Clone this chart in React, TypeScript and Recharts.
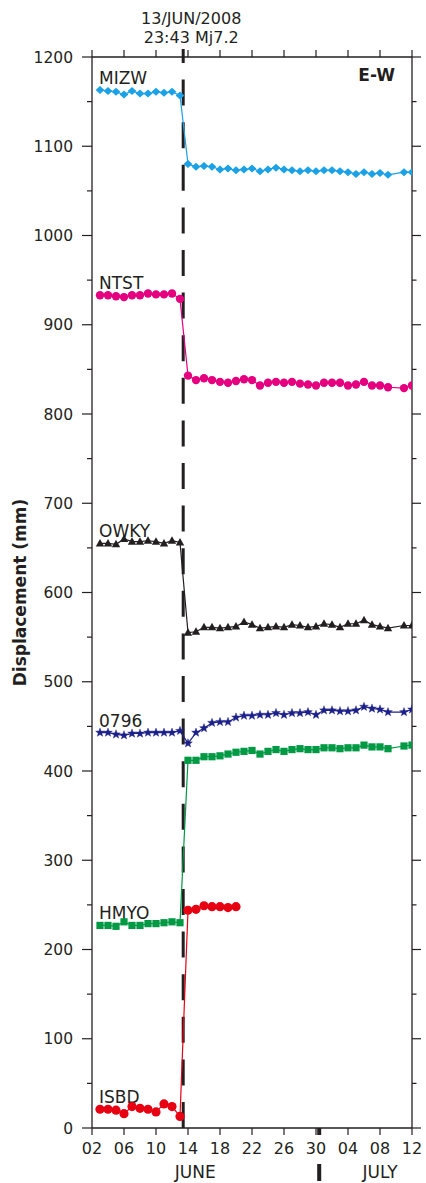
import React from 'react';
import { LineChart, Line, XAxis, YAxis, ReferenceLine } from 'recharts';

const INK = '#231f20';
const FONT = '"DejaVu Sans", sans-serif';

// x axis: day counted from 1 June 2008 (31 = 1 July)
const X_TICKS = [2, 6, 10, 14, 18, 22, 26, 30, 34, 38, 42];
const X_TICK_LABELS = ['02', '06', '10', '14', '18', '22', '26', '30', '04', '08', '12'];
const Y_TICKS = [0, 50, 100, 150, 200, 250, 300, 350, 400, 450, 500, 550, 600, 650, 700, 750, 800, 850, 900, 950, 1000, 1050, 1100, 1150, 1200];
const Y_LABELED = [0, 100, 200, 300, 400, 500, 600, 700, 800, 900, 1000, 1100, 1200];
const QUAKE_DAY = 13.4;
const QUAKE_TEXT = ['13/JUN/2008', '23:43 Mj7.2'];
const MONTH_BOUNDARY = 30.4;
const MONTH_TICKS = [14.9, 38];
const MONTH_LABELS = ['JUNE', 'JULY'];
const COMPONENT_LABEL = 'E-W';

const PRE_DAYS = [3, 4, 5, 6, 7, 8, 9, 10, 11, 12, 13];
const POST_DAYS = [14, 15, 16, 17, 18, 19, 20, 21, 22, 23, 24, 25, 26, 27, 28, 29, 30, 31, 32, 33, 34, 35, 36, 37, 38, 39, 41, 42];
const ISBD_POST_DAYS = [14, 15, 16, 17, 18, 19, 20];

const MIZW_PRE = [1163, 1162, 1161, 1158, 1162, 1159, 1159, 1161, 1160, 1161, 1157];
const MIZW_POST = [1080, 1077, 1078, 1077, 1074, 1075, 1073, 1074, 1075, 1072, 1074, 1076, 1074, 1073, 1072, 1073, 1072, 1073, 1073, 1072, 1071, 1069, 1071, 1069, 1070, 1068, 1071, 1071];
const NTST_PRE = [933, 933, 932, 931, 933, 933, 935, 934, 934, 935, 929];
const NTST_POST = [843, 838, 840, 838, 836, 835, 837, 839, 838, 832, 835, 836, 835, 836, 834, 833, 832, 835, 835, 835, 832, 833, 836, 832, 832, 830, 829, 832];
const OWKY_PRE = [655, 655, 654, 660, 657, 657, 658, 657, 655, 658, 656];
const OWKY_POST = [555, 556, 561, 561, 560, 561, 562, 567, 564, 560, 561, 562, 561, 564, 563, 561, 562, 565, 564, 561, 565, 565, 569, 564, 562, 560, 563, 563];
const S0796_PRE = [443, 443, 441, 440, 442, 442, 443, 443, 443, 443, 445];
const S0796_POST = [431, 443, 448, 454, 455, 455, 460, 462, 462, 463, 463, 465, 463, 465, 465, 466, 463, 468, 468, 467, 467, 468, 472, 470, 469, 466, 466, 469];
const HMYO_PRE = [227, 227, 226, 231, 227, 227, 229, 229, 230, 231, 230];
const HMYO_POST = [412, 412, 416, 416, 417, 419, 421, 422, 423, 419, 422, 424, 422, 424, 425, 424, 424, 426, 426, 425, 426, 426, 429, 427, 427, 425, 428, 429];
const ISBD_PRE = [21, 21, 20, 16, 24, 22, 21, 18, 27, 24, 13];
const ISBD_POST = [244, 245, 249, 248, 248, 247, 248];

type Marker = 'diamond' | 'circle' | 'bigcircle' | 'triangle' | 'star' | 'square';

const build = (preDays: number[], pre: number[], postDays: number[], post: number[]) => [
  ...preDays.map((d, i) => ({ day: d, v: pre[i] })),
  ...postDays.map((d, i) => ({ day: d, v: post[i] })),
];

const STATIONS: { name: string; color: string; marker: Marker; data: { day: number; v: number }[] }[] = [
  { name: 'MIZW', color: '#1ba1e6', marker: 'diamond', data: build(PRE_DAYS, MIZW_PRE, POST_DAYS, MIZW_POST) },
  { name: 'NTST', color: '#e4007f', marker: 'circle', data: build(PRE_DAYS, NTST_PRE, POST_DAYS, NTST_POST) },
  { name: 'OWKY', color: INK, marker: 'triangle', data: build(PRE_DAYS, OWKY_PRE, POST_DAYS, OWKY_POST) },
  { name: '0796', color: '#1d2088', marker: 'star', data: build(PRE_DAYS, S0796_PRE, POST_DAYS, S0796_POST) },
  { name: 'HMYO', color: '#009944', marker: 'square', data: build(PRE_DAYS, HMYO_PRE, POST_DAYS, HMYO_POST) },
  { name: 'ISBD', color: '#e60012', marker: 'bigcircle', data: build(PRE_DAYS, ISBD_PRE, ISBD_POST_DAYS, ISBD_POST) },
];

function starPath(cx: number, cy: number, ro: number, ri: number) {
  let d = '';
  for (let k = 0; k < 10; k++) {
    const r = k % 2 === 0 ? ro : ri;
    const a = -Math.PI / 2 + (k * Math.PI) / 5;
    d += (k === 0 ? 'M' : 'L') + (cx + r * Math.cos(a)).toFixed(2) + ',' + (cy + r * Math.sin(a)).toFixed(2);
  }
  return d + 'Z';
}

function renderMarker(m: Marker, cx: number, cy: number, c: string) {
  switch (m) {
    case 'diamond':
      return <path d={`M${cx},${cy - 4}L${cx + 4.4},${cy}L${cx},${cy + 4}L${cx - 4.4},${cy}Z`} fill={c} />;
    case 'circle':
      return <circle cx={cx} cy={cy} r={4.2} fill={c} />;
    case 'bigcircle':
      return <circle cx={cx} cy={cy} r={4.6} fill={c} />;
    case 'triangle':
      return <path d={`M${cx},${cy - 4.5}L${cx + 4.2},${cy + 3}L${cx - 4.2},${cy + 3}Z`} fill={c} />;
    case 'star':
      return <path d={starPath(cx, cy, 4.6, 1.9)} fill={c} stroke={c} strokeWidth={0.4} />;
    case 'square':
      return <rect x={cx - 3.6} y={cy - 3.6} width={7.2} height={7.2} fill={c} />;
  }
  return null;
}

const makeDot = (name: string, marker: Marker, color: string) => (p: any) => {
  const { cx, cy, index } = p;
  if (cx == null || cy == null) return <g key={`${name}-${index}`} />;
  return (
    <g key={`${name}-${index}`}>
      {renderMarker(marker, cx, cy, color)}
      {index === 0 && (
        <text x={cx - 1} y={cy - 6} fontFamily={FONT} fontSize={17} fill={INK}>
          {name}
        </text>
      )}
    </g>
  );
};

const BottomTick = (p: any) => {
  const { x, y, payload } = p;
  const v = payload.value;
  if (v === MONTH_BOUNDARY) {
    return <rect x={x - 2} y={y} width={4} height={7} fill={INK} />;
  }
  const i = X_TICKS.indexOf(v);
  return (
    <g>
      <line x1={x} x2={x} y1={y} y2={y + 7} stroke={INK} strokeWidth={1.2} />
      <text x={x} y={y + 26} textAnchor="middle" fontFamily={FONT} fontSize={16} fill={INK}>
        {X_TICK_LABELS[i]}
      </text>
    </g>
  );
};

const MonthTick = (p: any) => {
  const { x, y, payload } = p;
  const v = payload.value;
  if (v === MONTH_BOUNDARY) {
    return <rect x={x - 2} y={y + 6} width={4} height={17} fill={INK} />;
  }
  const i = MONTH_TICKS.indexOf(v);
  return (
    <text x={x} y={y + 20} textAnchor="middle" fontFamily={FONT} fontSize={17} fill={INK}>
      {MONTH_LABELS[i]}
    </text>
  );
};

const TopTick = (p: any) => {
  const { x, y, payload } = p;
  const v = payload.value;
  if (v === QUAKE_DAY) {
    return (
      <g>
        <line x1={x} x2={x} y1={y - 8} y2={y} stroke={INK} strokeWidth={3} />
        <text x={x + 8} y={y - 33} textAnchor="middle" fontFamily={FONT} fontSize={16} fill={INK}>
          {QUAKE_TEXT[0]}
        </text>
        <text x={x + 8} y={y - 14} textAnchor="middle" fontFamily={FONT} fontSize={16} fill={INK}>
          {QUAKE_TEXT[1]}
        </text>
      </g>
    );
  }
  return <line x1={x} x2={x} y1={y - 7} y2={y} stroke={INK} strokeWidth={1.2} />;
};

const LeftTick = (p: any) => {
  const { x, y, payload } = p;
  const v = payload.value;
  const major = Y_LABELED.indexOf(v) >= 0;
  return (
    <g>
      <line x1={x - (major ? 10 : 5)} x2={x} y1={y} y2={y} stroke={INK} strokeWidth={1.2} />
      {major && (
        <text x={x - 19} y={y + 5.5} textAnchor="end" fontFamily={FONT} fontSize={15.5} fill={INK}>
          {String(v)}
        </text>
      )}
    </g>
  );
};

const RightTick = (p: any) => {
  const { x, y, payload } = p;
  const major = Y_LABELED.indexOf(payload.value) >= 0;
  return <line x1={x} x2={x + (major ? 9 : 4.5)} y1={y} y2={y} stroke={INK} strokeWidth={1.2} />;
};

const YLabel = (p: any) => {
  const vb = p.viewBox || {};
  const cy = (vb.y ?? 57) + (vb.height ?? 1071) / 2;
  return (
    <text
      x={20}
      y={cy}
      transform={`rotate(-90, 20, ${cy})`}
      textAnchor="middle"
      dominantBaseline="central"
      fontFamily={FONT}
      fontSize={17}
      fontWeight="bold"
      fill={INK}
    >
      Displacement (mm)
    </text>
  );
};

const ComponentLabel = (p: any) => {
  const vb = p.viewBox || {};
  const x = (vb.x ?? 92) + (vb.width ?? 320) - 17;
  const y = (vb.y ?? 57) + 24;
  return (
    <text x={x} y={y} textAnchor="end" fontFamily={FONT} fontSize={17} fontWeight="bold" fill={INK}>
      {COMPONENT_LABEL}
    </text>
  );
};

const axisLine = { stroke: INK, strokeWidth: 1.3 };

export default function App() {
  return (
    <div style={{ position: 'absolute', left: 0, top: 0, width: 426, height: 1183, background: '#fff' }}>
      <LineChart width={426} height={1183} margin={{ top: 47, right: 4, bottom: 0, left: 0 }}>
        <XAxis
          xAxisId="main"
          type="number"
          dataKey="day"
          domain={[2, 42]}
          allowDataOverflow
          ticks={[...X_TICKS, MONTH_BOUNDARY]}
          interval={0}
          height={30}
          tickSize={0}
          tickMargin={0}
          tickLine={false}
          axisLine={axisLine}
          tick={(p: any) => <BottomTick {...p} />}
        />
        <XAxis
          xAxisId="month"
          type="number"
          dataKey="day"
          domain={[2, 42]}
          allowDataOverflow
          ticks={[...MONTH_TICKS, MONTH_BOUNDARY]}
          interval={0}
          height={25}
          tickSize={0}
          tickMargin={0}
          tickLine={false}
          axisLine={false}
          tick={(p: any) => <MonthTick {...p} />}
        />
        <XAxis
          xAxisId="top"
          orientation="top"
          type="number"
          dataKey="day"
          domain={[2, 42]}
          allowDataOverflow
          ticks={[...X_TICKS, QUAKE_DAY]}
          interval={0}
          height={10}
          tickSize={0}
          tickMargin={0}
          tickLine={false}
          axisLine={axisLine}
          tick={(p: any) => <TopTick {...p} />}
        />
        <YAxis
          yAxisId="left"
          type="number"
          domain={[0, 1200]}
          allowDataOverflow
          ticks={Y_TICKS}
          interval={0}
          width={92}
          tickSize={0}
          tickMargin={0}
          tickLine={false}
          axisLine={axisLine}
          tick={(p: any) => <LeftTick {...p} />}
          label={(p: any) => <YLabel {...p} />}
        />
        <YAxis
          yAxisId="right"
          orientation="right"
          type="number"
          domain={[0, 1200]}
          allowDataOverflow
          ticks={Y_TICKS}
          interval={0}
          width={10}
          tickSize={0}
          tickMargin={0}
          tickLine={false}
          axisLine={axisLine}
          tick={(p: any) => <RightTick {...p} />}
        />
        <ReferenceLine
          xAxisId="main"
          yAxisId="left"
          x={QUAKE_DAY}
          stroke={INK}
          strokeWidth={3}
          strokeDasharray="26 16.6"
        />
        <ReferenceLine
          xAxisId="main"
          yAxisId="left"
          y={1200}
          stroke="none"
          label={(p: any) => <ComponentLabel {...p} />}
        />
        {STATIONS.map((s) => (
          <Line
            key={s.name}
            xAxisId="main"
            yAxisId="left"
            data={s.data}
            dataKey="v"
            type="linear"
            stroke={s.color}
            strokeWidth={1.2}
            dot={makeDot(s.name, s.marker, s.color)}
            activeDot={false}
            isAnimationActive={false}
            connectNulls
          />
        ))}
      </LineChart>
    </div>
  );
}
